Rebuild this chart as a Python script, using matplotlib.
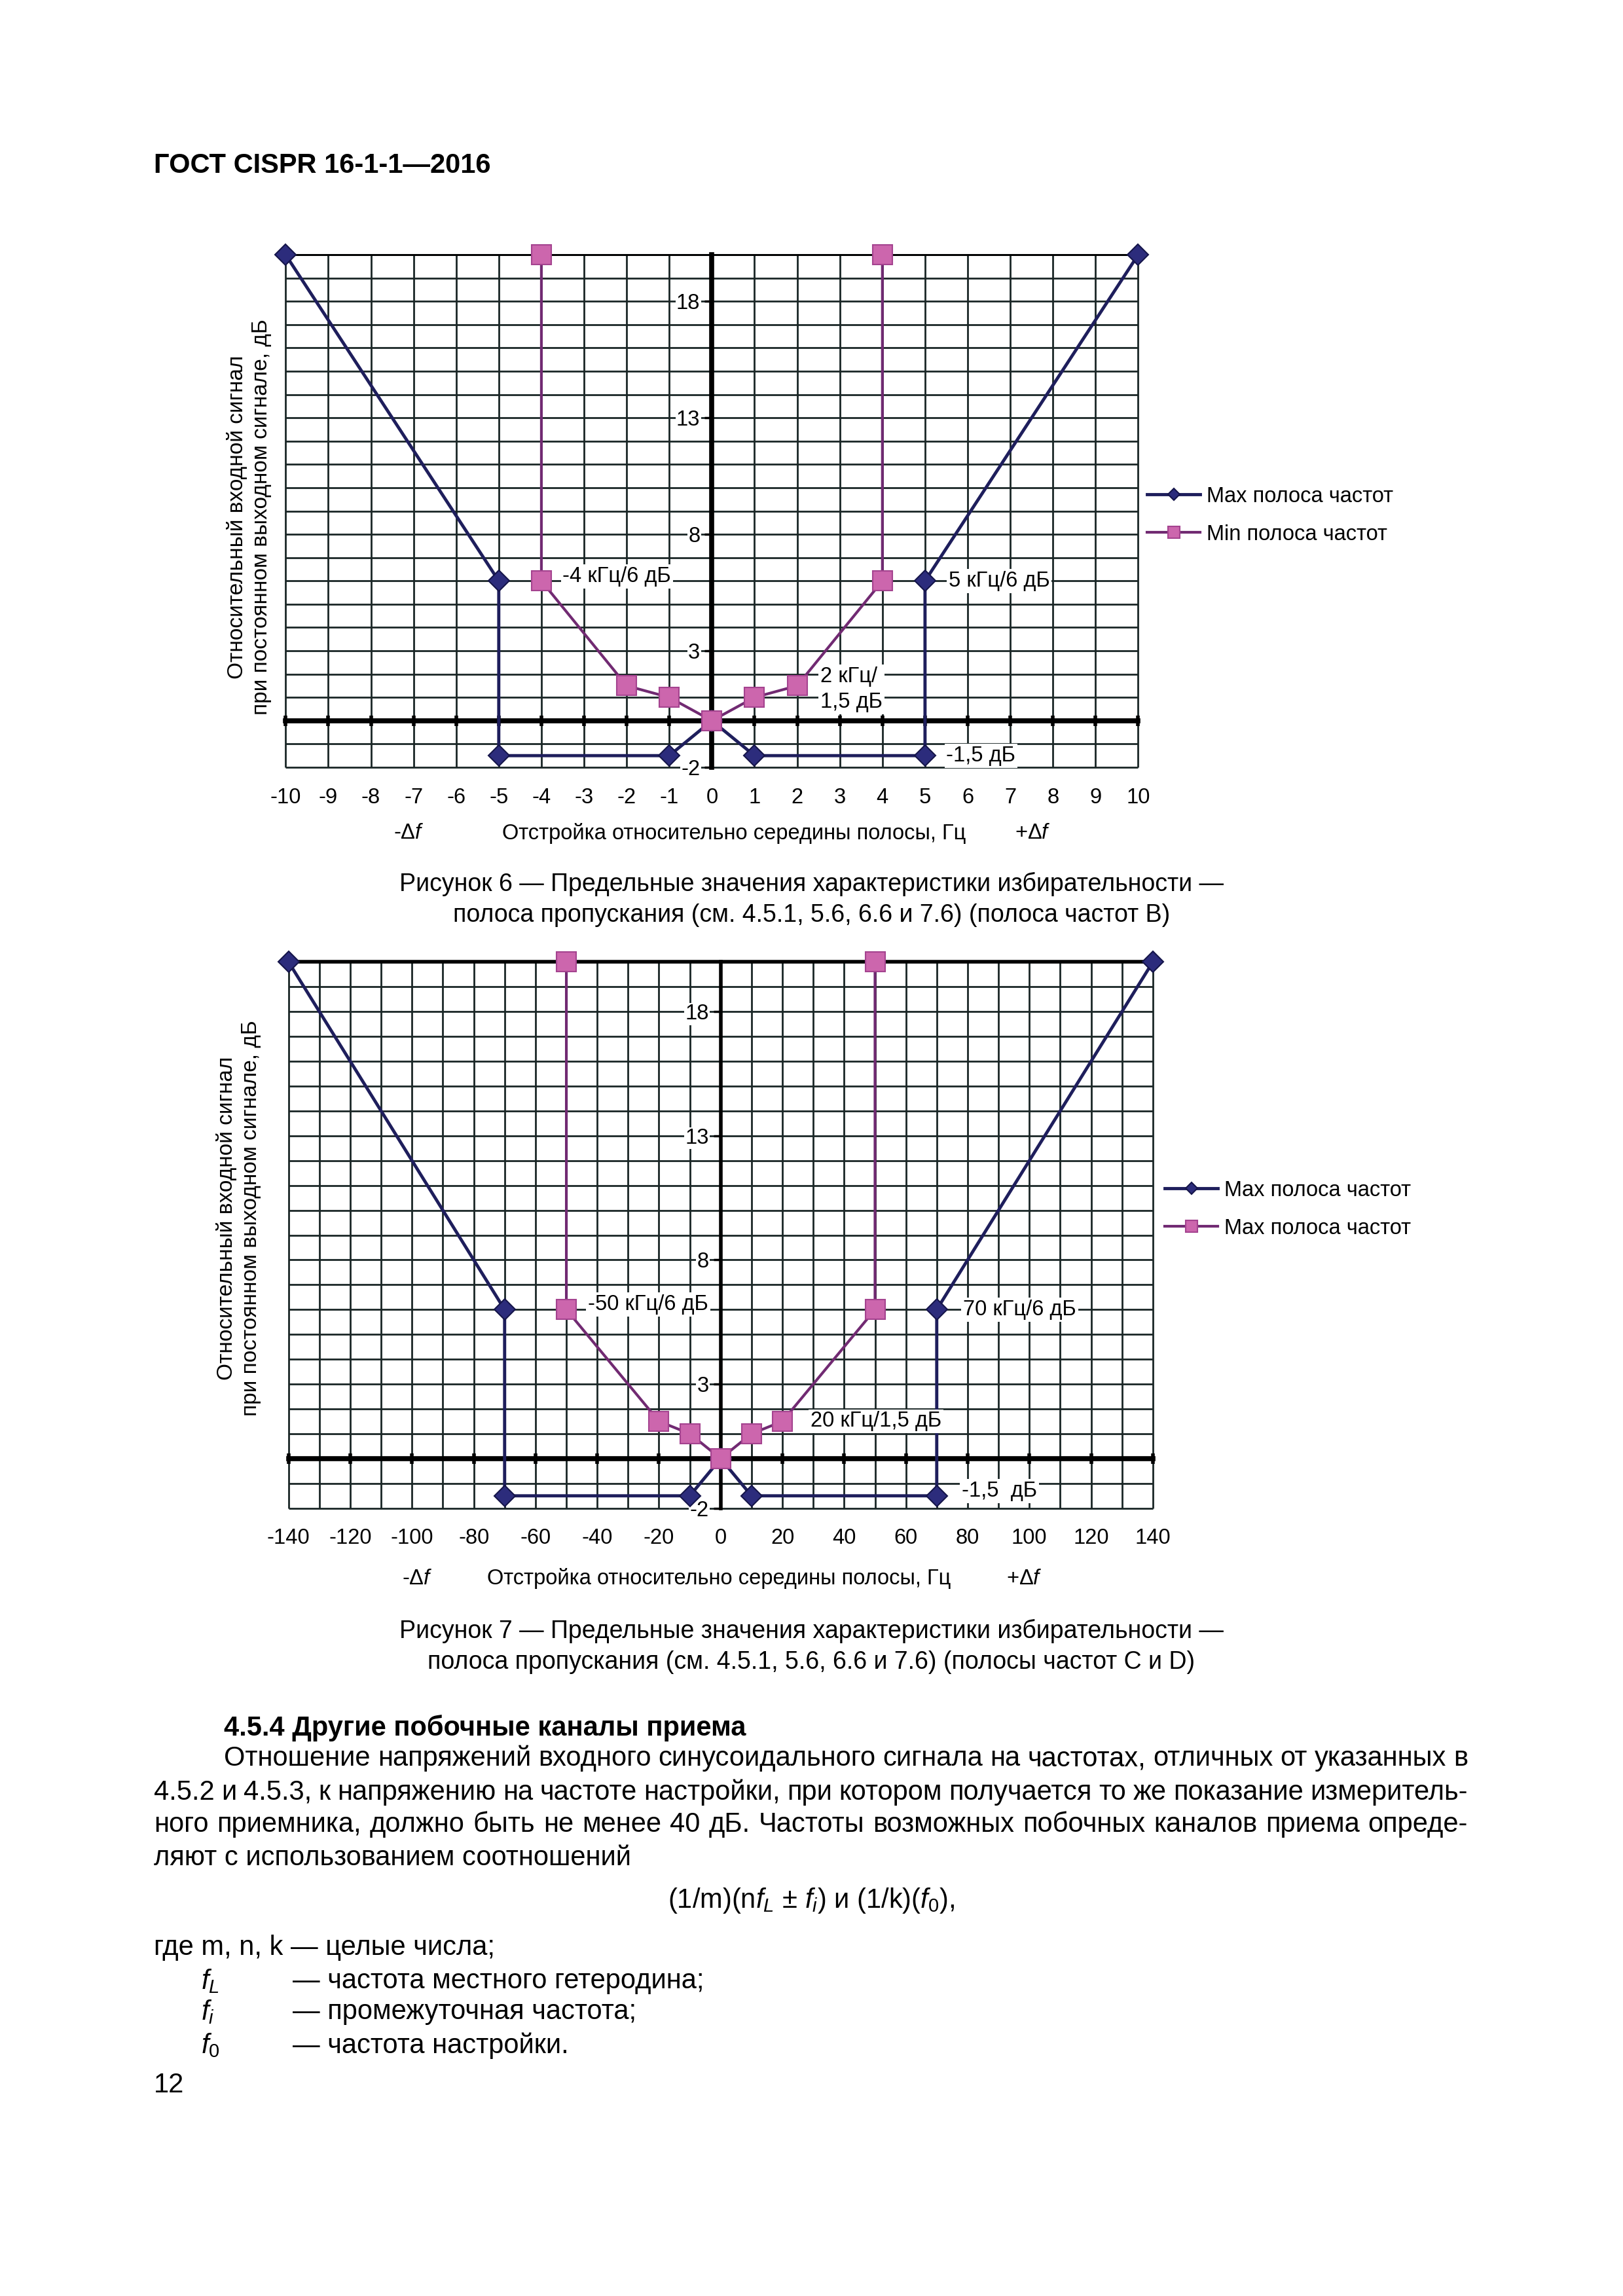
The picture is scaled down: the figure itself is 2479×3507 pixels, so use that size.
import numpy as np
import matplotlib
matplotlib.use("Agg")
import matplotlib.pyplot as plt

plt.rcParams['font.family'] = ['Liberation Sans', 'DejaVu Sans']
plt.rcParams['axes.unicode_minus'] = False
plt.rcParams['mathtext.fontset'] = 'custom'
plt.rcParams['mathtext.rm'] = 'Liberation Sans'
plt.rcParams['mathtext.it'] = 'Liberation Sans:italic'
plt.rcParams['mathtext.bf'] = 'Liberation Sans:bold'

# ---- data: Рисунок 6 (полоса частот B)
f6_max_x = [-10, -5, -5, -1, 0, 1, 5, 5, 10]
f6_max_y = [20, 6, -1.5, -1.5, 0, -1.5, -1.5, 6, 20]
f6_min_x = [-4, -4, -2, -1, 0, 1, 2, 4, 4]
f6_min_y = [20, 6, 1.5, 1, 0, 1, 1.5, 6, 20]
f6_xticks = list(range(-10, 11, 1))

# ---- data: Рисунок 7 (полосы частот C и D)
f7_max_x = [-140, -70, -70, -10, 0, 10, 70, 70, 140]
f7_max_y = [20, 6, -1.5, -1.5, 0, -1.5, -1.5, 6, 20]
f7_min_x = [-50, -50, -20, -10, 0, 10, 20, 50, 50]
f7_min_y = [20, 6, 1.5, 1, 0, 1, 1.5, 6, 20]
f7_xticks = list(range(-140, 141, 20))

yticks = [-2, 3, 8, 13, 18]

f6_notes = [(-3.5, 6.2, "-4 кГц/6 дБ"), (5.55, 6.0, "5 кГц/6 дБ"),
            (2.55, 1.35, "2 кГц/\n1,5 дБ"), (5.5, -1.5, "-1,5 дБ")]
f7_notes = [(-43, 6.2, "-50 кГц/6 дБ"), (78.5, 6.0, "70 кГц/6 дБ"),
            (29, 1.5, "20 кГц/1,5 дБ"), (78, -1.3, "-1,5  дБ")]

f6_labels = ["Max полоса частот", "Min полоса частот"]
f7_labels = ["Max полоса частот", "Max полоса частот"]

ylabel = "Относительный входной сигнал\nпри постоянном выходном сигнале, дБ"
xlabel = "Отстройка относительно середины полосы, Гц"

NAVY = '#1e1e5c'
NAVY_M = '#2c2c7c'
PURPLE = '#712a72'
PINK = '#cc66ad'
PINK_E = '#a4438f'
GRID = '#1a2626'
CH = 23.5  # chart font size

W, H = 1108.0, 1568.0  # layout measured in this scale


def fx(x):
    return x / W


def fy(y):
    return 1 - y / H


fig = plt.figure(figsize=(24.79, 35.07), dpi=100)


def draw_chart(box, xlim, xgrid, xticks, mx, my, nx, ny, labels, notes,
               leg_xy, ylab_xy, xl_y, xl_pos, axis_lw, top_lw):
    x0, y0, x1, y1 = box
    ax = fig.add_axes([fx(x0), fy(y1), fx(x1) - fx(x0), fy(y0) - fy(y1)])
    ax.set_xlim(*xlim)
    ax.set_ylim(-2, 20)
    ax.patch.set_alpha(0)

    gx = np.arange(xlim[0], xlim[1] + xgrid / 2, xgrid)
    gy = np.arange(-2, 21, 1)
    ax.vlines(gx, -2, 20, colors=GRID, lw=2.0, zorder=0.5, clip_on=False)
    ax.hlines(gy, xlim[0], xlim[1], colors=GRID, lw=2.0, zorder=0.5, clip_on=False)
    ax.hlines([20], xlim[0], xlim[1], colors='black', lw=top_lw, zorder=0.6, clip_on=False)

    for s in ['top', 'right']:
        ax.spines[s].set_visible(False)
    ax.spines['left'].set_position(('data', 0))
    ax.spines['bottom'].set_position(('data', 0))
    ax.spines['left'].set_linewidth(axis_lw)
    ax.spines['bottom'].set_linewidth(5.5)

    ax.set_yticks(yticks)
    ax.tick_params(axis='y', direction='out', length=8, width=2.5, pad=5, labelsize=CH)
    for lab in ax.get_yticklabels():
        lab.set_bbox(dict(facecolor='white', edgecolor='none', pad=1))

    ax.set_xticks(xticks)
    ax.tick_params(axis='x', direction='inout', length=12, width=4, labelbottom=False)

    sec = ax.secondary_xaxis('bottom')
    sec.set_xticks(xticks)
    sec.tick_params(length=0, pad=22, labelsize=CH)
    sec.spines['bottom'].set_visible(False)

    ax.plot(mx, my, color=NAVY, lw=3.5, marker='D', ms=16, mfc=NAVY_M,
            mec='#15154a', mew=1.5, zorder=3, clip_on=False, label=labels[0])
    ax.plot(nx, ny, color=PURPLE, lw=3, marker='s', ms=22, mfc=PINK,
            mec=PINK_E, mew=1.5, zorder=3.5, clip_on=False, label=labels[1])

    for tx, ty, t in notes:
        ax.text(tx, ty, t, fontsize=CH, ha='left', va='center', zorder=4,
                linespacing=1.35,
                bbox=dict(facecolor='white', edgecolor='none', pad=2))

    leg = ax.legend(loc='upper left', bbox_to_anchor=(fx(leg_xy[0]), fy(leg_xy[1])),
                    bbox_transform=fig.transFigure, frameon=False, fontsize=CH,
                    handlelength=2.5, handletextpad=0.3, labelspacing=0.83,
                    borderpad=0, borderaxespad=0)
    leg.legend_handles[0].set_markersize(9)
    leg.legend_handles[1].set_markersize(13)

    fig.text(fx(ylab_xy[0]), fy(ylab_xy[1]), ylabel, rotation=90, ha='center',
             va='center', multialignment='center', fontsize=24, linespacing=1.25)
    fig.text(fx(xl_pos[0]), fy(xl_y), "-Δ$f$", ha='center', va='center', fontsize=CH)
    fig.text(fx(xl_pos[1]), fy(xl_y), xlabel, ha='center', va='center', fontsize=CH)
    fig.text(fx(xl_pos[2]), fy(xl_y), "+Δ$f$", ha='center', va='center', fontsize=CH)
    return ax


draw_chart((195, 174, 777, 524), (-10, 10), 1, f6_xticks,
           f6_max_x, f6_max_y, f6_min_x, f6_min_y, f6_labels, f6_notes,
           (783, 332), (170, 353), 569, (279, 501, 705), 5.5, 2.0)

draw_chart((197, 657, 787, 1030), (-140, 140), 10, f7_xticks,
           f7_max_x, f7_max_y, f7_min_x, f7_min_y, f7_labels, f7_notes,
           (795, 806), (163, 832), 1078, (285, 491, 699), 4, 4)

# ---- page text
BODY = 30
CAP = 27

fig.text(fx(105), fy(113), "ГОСТ CISPR 16-1-1—2016", fontsize=BODY, weight='bold',
         ha='left', va='center')

fig.text(fx(554), fy(604), "Рисунок 6 — Предельные значения характеристики избирательности —",
         fontsize=CAP, ha='center', va='center')
fig.text(fx(554), fy(625), "полоса пропускания (см. 4.5.1, 5.6, 6.6 и 7.6) (полоса частот В)",
         fontsize=CAP, ha='center', va='center')
fig.text(fx(554), fy(1114), "Рисунок 7 — Предельные значения характеристики избирательности —",
         fontsize=CAP, ha='center', va='center')
fig.text(fx(554), fy(1135), "полоса пропускания (см. 4.5.1, 5.6, 6.6 и 7.6) (полосы частот С и D)",
         fontsize=CAP, ha='center', va='center')

fig.text(fx(153), fy(1180), "4.5.4 Другие побочные каналы приема", fontsize=BODY,
         weight='bold', ha='left', va='center')

renderer = fig.canvas.get_renderer()


def justify(line, x0, x1, y):
    words = line.split(' ')
    texts = [fig.text(0, fy(y), w, fontsize=BODY, ha='left', va='center') for w in words]
    widths = [t.get_window_extent(renderer).width for t in texts]
    fw = fig.bbox.width
    gap = ((fx(x1) - fx(x0)) * fw - sum(widths)) / (len(words) - 1)
    pos = fx(x0) * fw
    for t, w in zip(texts, widths):
        t.set_x(pos / fw)
        pos += w + gap


justify("Отношение напряжений входного синусоидального сигнала на частотах, отличных от указанных в",
        153, 1002, 1201)
justify("4.5.2 и 4.5.3, к напряжению на частоте настройки, при котором получается то же показание измеритель-",
        105, 1002, 1224)
justify("ного приемника, должно быть не менее 40 дБ. Частоты возможных побочных каналов приема опреде-",
        105, 1002, 1246)
fig.text(fx(105), fy(1269), "ляют с использованием соотношений", fontsize=BODY, ha='left', va='center')

fig.text(fx(554), fy(1298), r"(1/m)(n$f_L$ ± $f_i$) и (1/k)($f_0$),", fontsize=BODY,
         ha='center', va='center')

fig.text(fx(105), fy(1330), "где m, n, k — целые числа;", fontsize=BODY, ha='left', va='center')
for yy, sym, txt in [(1353, r"$f_L$", "— частота местного гетеродина;"),
                     (1374, r"$f_i$", "— промежуточная частота;"),
                     (1397, r"$f_0$", "— частота настройки.")]:
    fig.text(fx(137), fy(yy), sym, fontsize=BODY, ha='left', va='center')
    fig.text(fx(200), fy(yy), txt, fontsize=BODY, ha='left', va='center')

fig.text(fx(105), fy(1424), "12", fontsize=BODY, ha='left', va='center')

fig.savefig("out.png", dpi=100)
